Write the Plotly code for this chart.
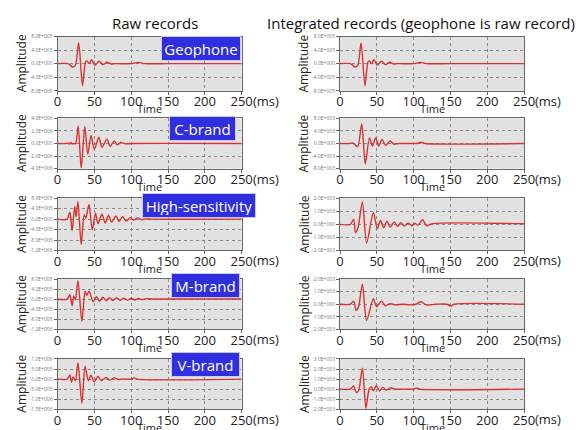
import plotly.graph_objects as go

W, H = 576, 430

# ---------------- data ----------------
x_tick_vals = [0, 50, 100, 150, 200, 250]
x_tick_text = ["0", "50", "100", "150", "200", "250"]

raw_labels = ["Geophone", "C-brand", "High-sensitivity", "M-brand", "V-brand"]

# Geophone raw record (also shown on the right, since geophone is raw)
geo_t = [0, 14, 17.5, 20, 24, 28.6, 33.9, 38, 40, 43, 46.2, 50.6, 56.3, 61.6, 67.3, 72.6, 78, 100, 107, 112, 118, 150, 250]
geo_v = [0, 0, -0.5e5, -1.0e5, -0.6e5, 6.1e5, -6.5e5, 0.5e5, 0.8e5, 0, 1.2e5, -0.5e5, 0.7e5, -0.3e5, 0.4e5, -0.1e5, 0, 0, 0.3e5, 0.3e5, 0, 0, 0]

# C-brand
c_raw_t = [0, 12, 14, 16, 18, 20, 22, 24.5, 28, 32.1, 37, 41, 45.5, 50, 56, 60.3, 67, 71.5, 77, 81, 86, 92, 100, 250]
c_raw_v = [0, 0, 1e5, -1e5, 1.5e5, -1e5, 0.5e5, -0.5e5, 2.8e6, -3.9e6, 2.7e6, -1.7e6, 1.3e6, -0.9e6, 1.0e6, -0.6e6, 0.7e6, -0.45e6, 0.4e6, -0.2e6, 0.15e6, -0.05e6, 0, 0]
c_int_t = [0, 14, 17, 20, 24, 29.5, 34.3, 40, 44, 48.4, 52.5, 57, 62, 68, 73, 80, 100, 106, 110, 116, 250]
c_int_v = [0, 0, 0.2e3, -0.3e3, -1.0e3, 6.2e3, -6.5e3, 1.8e3, -0.8e3, 1.8e3, -0.8e3, 1.3e3, -0.6e3, 0.8e3, -0.2e3, 0, 0, 0.1e3, 0.4e3, 0, 0]

# High-sensitivity
h_raw_t = [0, 13, 16.7, 19.8, 23.3, 25.1, 27.7, 32.1, 36.1, 38.3, 42.7, 47.1, 51.5, 55, 60.3, 64.7, 69.1, 73.5, 79.2, 83.6, 88, 93.3, 99, 103.4, 108.7, 114, 120, 126, 250]
h_raw_v = [0, 0, 2.7e5, -4.4e5, 4.9e5, 0.9e5, 6.7e5, -9.7e5, 1.6e5, 0.3e5, 5.6e5, -4.1e5, 2.3e5, -1.7e5, 1.9e5, -1.5e5, 1.5e5, -1.1e5, 1.2e5, -0.9e5, 0.9e5, -0.7e5, 0.6e5, -0.4e5, 0.5e5, -0.2e5, 0.1e5, 0, 0]
h_int_t = [0, 14, 18.5, 21, 24.2, 30.4, 36.1, 45.3, 50.6, 55, 59.4, 63.8, 68.2, 73.5, 78.3, 82.7, 87.1, 92.4, 97.7, 102, 105.6, 112.2, 117.5, 125, 250]
h_int_v = [0, 0, 0.38e3, -0.63e3, -0.3e3, 1.7e3, -1.42e3, 0.9e3, -0.33e3, 0.3e3, -0.25e3, 0.25e3, -0.2e3, 0.18e3, -0.15e3, 0.13e3, -0.12e3, 0.1e3, -0.1e3, 0.08e3, -0.08e3, 0.35e3, -0.1e3, 0.05e3, 0.05e3]

# M-brand
m_raw_t = [0, 13, 16.7, 19.8, 22, 24.2, 27.7, 33, 37.4, 39.6, 42.7, 48.4, 52.8, 57.2, 61.6, 66, 70.4, 75, 80, 85, 90, 95, 100, 105, 110, 115, 120, 130, 250]
m_raw_v = [0, 0, 1.8e5, -2.6e5, 1.3e5, -0.2e5, 7.4e5, -8.8e5, 3.2e5, 1.5e5, 3.2e5, -1.0e5, 1.0e5, -0.8e5, 0.8e5, -0.6e5, 0.6e5, -0.5e5, 0.5e5, -0.4e5, 0.4e5, -0.4e5, 0.4e5, -0.3e5, 0.3e5, -0.2e5, 0.2e5, 0.1e5, 0.1e5]
m_int_t = [0, 14, 18.5, 22, 25, 30.4, 36.1, 45.3, 49.7, 56.3, 61.6, 68, 75, 85, 95, 103, 110, 117, 130, 145, 150, 155, 250]
m_int_v = [0, 0, 0.25e3, -0.5e3, -0.25e3, 1.6e3, -1.3e3, 0.45e3, -0.2e3, 0.25e3, -0.12e3, 0.05e3, -0.05e3, 0, -0.05e3, 0, 0.2e3, -0.05e3, 0, 0, -0.15e3, 0, 0]

# V-brand
v_raw_t = [0, 13, 16.7, 18.9, 21.1, 24.2, 27.7, 33, 37.4, 41.8, 45.3, 49.7, 55, 59.4, 66, 70.4, 77, 82, 88, 100, 104, 108, 250]
v_raw_v = [0, 0, 2e5, -1.6e5, 1.1e5, -0.8e5, 8e5, -1.2e6, 6.4e5, -0.8e5, 1.9e5, -1.3e5, 1.3e5, -0.8e5, 0.8e5, -0.5e5, 0.6e5, -0.2e5, 0, 0, 0.6e5, 0, 0]
v_int_t = [0, 14, 18.5, 22, 25.1, 30.4, 35.2, 39.6, 42.7, 45.3, 49.3, 53.7, 58.1, 62.9, 68.2, 75, 85, 100, 103.4, 108, 250]
v_int_v = [0, 0, 0.33e3, -0.33e3, -0.17e3, 2.07e3, -1.9e3, 0, 0.23e3, -0.17e3, 0.33e3, -0.17e3, 0.17e3, -0.1e3, 0.13e3, 0, 0, 0, 0.1e3, 0, 0]

# y ticks per panel
geo_yticks = [-8e5, -4e5, 0, 4e5, 8e5]
geo_ytext = ["-8.0E+005", "-4.0E+005", "0.0E+000", "4.0E+005", "8.0E+005"]
c_raw_yticks = [-4e6, -2e6, 0, 2e6, 4e6]
c_raw_ytext = ["-4.0E+006", "-2.0E+006", "0.0E+000", "2.0E+006", "4.0E+006"]
c_int_yticks = [-8e3, -4e3, 0, 4e3, 8e3]
c_int_ytext = ["-8.0E+003", "-4.0E+003", "0.0E+000", "4.0E+003", "8.0E+003"]
h_raw_yticks = [-1.2e6, -8e5, -4e5, 0, 4e5, 8e5]
h_raw_ytext = ["-1.2E+006", "-8.0E+005", "-4.0E+005", "0.0E+000", "4.0E+005", "8.0E+005"]
h_int_yticks = [-2e3, -1e3, 0, 1e3, 2e3]
h_int_ytext = ["-2.0E+003", "-1.0E+003", "0.0E+000", "1.0E+003", "2.0E+003"]
m_raw_yticks = [-1.2e6, -8e5, -4e5, 0, 4e5, 8e5]
m_raw_ytext = ["-1.2E+006", "-8.0E+005", "-4.0E+005", "0.0E+000", "4.0E+005", "8.0E+005"]
m_int_yticks = [-2e3, -1e3, 0, 1e3, 2e3]
m_int_ytext = ["-2.0E+003", "-1.0E+003", "0.0E+000", "1.0E+003", "2.0E+003"]
v_raw_yticks = [-1.5e6, -1e6, -5e5, 0, 5e5, 1e6]
v_raw_ytext = ["-1.5E+006", "-1.0E+006", "-5.0E+005", "0.0E+000", "5.0E+005", "1.0E+006"]
v_int_yticks = [-2e3, -1e3, 0, 1e3, 2e3, 3e3]
v_int_ytext = ["-2.0E+003", "-1.0E+003", "0.0E+000", "1.0E+003", "2.0E+003", "3.0E+003"]

panels = [
    # (row, col, t, v, yticks, ytext)
    (0, 0, geo_t, geo_v, geo_yticks, geo_ytext),
    (0, 1, geo_t, geo_v, geo_yticks, geo_ytext),
    (1, 0, c_raw_t, c_raw_v, c_raw_yticks, c_raw_ytext),
    (1, 1, c_int_t, c_int_v, c_int_yticks, c_int_ytext),
    (2, 0, h_raw_t, h_raw_v, h_raw_yticks, h_raw_ytext),
    (2, 1, h_int_t, h_int_v, h_int_yticks, h_int_ytext),
    (3, 0, m_raw_t, m_raw_v, m_raw_yticks, m_raw_ytext),
    (3, 1, m_int_t, m_int_v, m_int_yticks, m_int_ytext),
    (4, 0, v_raw_t, v_raw_v, v_raw_yticks, v_raw_ytext),
    (4, 1, v_int_t, v_int_v, v_int_yticks, v_int_ytext),
]

# ---------------- layout geometry (pixels) ----------------
col_px = [(55, 244), (345, 534)]
row_px = [(34, 89), (117, 168), (198, 251), (280, 331), (361, 412)]
label_px = [(202, 46.5), (203.5, 127.5), (200, 205.5), (206.5, 286), (206.5, 367)]
label_w = [80, 67, 114, 69, 69]

FONT = "Open Sans"
fig = go.Figure()
layout = dict(
    width=W, height=H, margin=dict(l=0, r=0, t=0, b=0),
    paper_bgcolor="white", plot_bgcolor="#e2e2e2", showlegend=False,
    font=dict(family=FONT, color="#222"),
)
annotations = []

for i, (r, c, t, v, yt, ytt) in enumerate(panels):
    n = i + 1
    xa = "xaxis" if n == 1 else f"xaxis{n}"
    ya = "yaxis" if n == 1 else f"yaxis{n}"
    xr = "x" if n == 1 else f"x{n}"
    yr = "y" if n == 1 else f"y{n}"
    x0, x1 = col_px[c]
    y0, y1 = row_px[r]
    fig.add_trace(go.Scatter(
        x=t, y=v, mode="lines", xaxis=xr, yaxis=yr,
        line=dict(color="#dd3030", width=1.4, shape="spline", smoothing=0.8),
        hoverinfo="skip"))
    layout[xa] = dict(
        domain=[x0 / W, x1 / W], anchor=yr, range=[0, 250],
        tickvals=x_tick_vals, ticktext=x_tick_text,
        tickfont=dict(size=13, color="#222", family=FONT),
        ticks="outside", ticklen=3, tickcolor="#666", ticklabelstandoff=-4,
        showgrid=True, gridcolor="#8a8a8a", griddash="3px,3px", gridwidth=0.8,
        showline=True, linecolor="#666", linewidth=1, mirror=True,
        zeroline=False, fixedrange=True,
    )
    layout[ya] = dict(
        domain=[1 - y1 / H, 1 - y0 / H], anchor=xr, range=[yt[0], yt[-1]],
        tickvals=yt, ticktext=ytt,
        tickfont=dict(size=5, color="#777", family=FONT),
        ticks="outside", ticklen=3, tickcolor="#666",
        showgrid=True, gridcolor="#8a8a8a", griddash="3px,3px", gridwidth=0.8,
        showline=True, linecolor="#666", linewidth=1, mirror=True,
        zeroline=False, fixedrange=True,
    )
    # (ms) suffix after the last tick
    annotations.append(dict(
        xref=xr, yref="paper", x=250, y=1 - (y1 + 10) / H, xshift=9,
        text="(ms)", showarrow=False, xanchor="left", yanchor="middle",
        font=dict(size=13, color="#222", family=FONT)))
    # Time axis label
    annotations.append(dict(
        xref="paper", yref="paper", x=(x0 + x1) / 2 / W, y=1 - (y1 + 18) / H,
        text="Time", showarrow=False, xanchor="center", yanchor="middle",
        font=dict(size=11, color="#222", family=FONT)))
    # Amplitude label
    annotations.append(dict(
        xref="paper", yref="paper", x=(x0 - 37) / W, y=1 - (y0 + y1) / 2 / H,
        text="Amplitude", showarrow=False, textangle=-90,
        xanchor="center", yanchor="middle",
        font=dict(size=12, color="#222", family=FONT)))

# sensor name boxes on left column
for (cx, cy), w, txt in zip(label_px, label_w, raw_labels):
    annotations.append(dict(
        xref="paper", yref="paper", x=cx / W, y=1 - cy / H,
        text=txt, showarrow=False, xanchor="center", yanchor="middle",
        width=w - 6, height=19, borderpad=2,
        bgcolor="#2f2fe0", bordercolor="#c8c8f0", borderwidth=1,
        font=dict(size=15, color="white", family=FONT)))

# column titles
annotations.append(dict(
    xref="paper", yref="paper", x=155 / W, y=1 - 20 / H, text="Raw records",
    showarrow=False, xanchor="center", yanchor="middle",
    font=dict(size=15, color="#111", family=FONT)))
annotations.append(dict(
    xref="paper", yref="paper", x=428 / W, y=1 - 20 / H,
    text="Integrated records (geophone is raw record)",
    showarrow=False, xanchor="center", yanchor="middle",
    font=dict(size=15, color="#111", family=FONT)))

layout["annotations"] = annotations
fig.update_layout(**layout)
fig.write_html("out.html", config={"displayModeBar": False},
               post_script="document.body.style.margin='0';document.body.style.overflow='hidden';")
